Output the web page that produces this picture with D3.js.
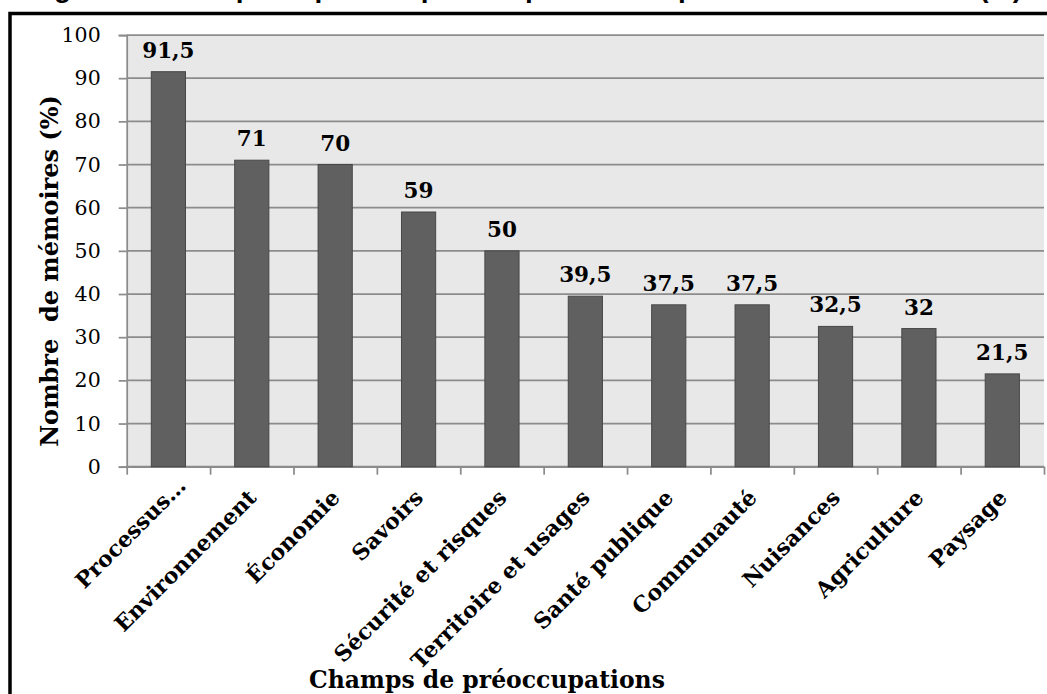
<!DOCTYPE html>
<html>
<head>
<meta charset="utf-8">
<script src="https://cdn.jsdelivr.net/npm/d3@7"></script>
<style>
  html, body { margin: 0; padding: 0; background: #ffffff; }
  svg { display: block; }
</style>
</head>
<body>
<script>
// Champs de préoccupations abordés par les mémoires (%)
const categories = [
  "Processus…", "Environnement", "Économie", "Savoirs", "Sécurité et risques",
  "Territoire et usages", "Santé publique", "Communauté", "Nuisances",
  "Agriculture", "Paysage"
];
const values = [91.5, 71, 70, 59, 50, 39.5, 37.5, 37.5, 32.5, 32, 21.5];
const yTicks = [0, 10, 20, 30, 40, 50, 60, 70, 80, 90, 100];
const yTitle = "Nombre  de mémoires (%)";
const xTitle = "Champs de préoccupations";
const figureTitle = "Figure 3 : Champs de préoccupations pris en compte dans les mémoires (%)";

const W = 1047, H = 694;
const plot = { left: 126.7, right: 1044, top: 35, bottom: 466.7 };
const serif = "'DejaVu Serif', serif";
const gridColor = "#8c8c8c";

const svg = d3.select("body").append("svg")
  .attr("width", W).attr("height", H);

// frame around the figure (runs past the right and bottom edges)
svg.append("rect")
  .attr("x", 10).attr("y", 13.5)
  .attr("width", 1200).attr("height", 900)
  .attr("fill", "#ffffff")
  .attr("stroke", "#000000").attr("stroke-width", 3.5);

// caption line above the frame, mostly above the top edge of the page
svg.append("text")
  .attr("x", 30).attr("y", -3)
  .attr("textLength", 992).attr("lengthAdjust", "spacing")
  .attr("font-family", "'Liberation Sans', Arial, sans-serif")
  .attr("font-weight", "bold").attr("font-size", 28)
  .attr("fill", "#000")
  .text(figureTitle);

const y = d3.scaleLinear().domain([0, 100]).range([plot.bottom, plot.top]);
const x = d3.scaleBand().domain(categories)
  .range([plot.left, plot.right])
  .paddingInner(0.59).paddingOuter(0.295);
const xEdge = d3.scaleLinear().domain([0, categories.length])
  .range([plot.left, plot.right]);

// plot background
svg.append("rect")
  .attr("x", plot.left).attr("y", plot.top)
  .attr("width", plot.right - plot.left).attr("height", plot.bottom - plot.top)
  .attr("fill", "#e8e8e8");

// horizontal gridlines
svg.append("g")
  .selectAll("line").data(yTicks).join("line")
  .attr("x1", plot.left).attr("x2", plot.right)
  .attr("y1", d => y(d)).attr("y2", d => y(d))
  .attr("stroke", gridColor).attr("stroke-width", 1.75);

// y axis
const yAxis = svg.append("g")
  .attr("transform", `translate(${plot.left},0)`)
  .call(d3.axisLeft(y).tickValues(yTicks).tickSize(8).tickPadding(18)
    .tickFormat(d => String(d)));
yAxis.select(".domain").attr("stroke", gridColor).attr("stroke-width", 1.75);
yAxis.selectAll(".tick line").attr("stroke", gridColor).attr("stroke-width", 1.75);
yAxis.selectAll(".tick text")
  .attr("font-family", serif).attr("font-size", 20.5).attr("fill", "#000");

// x axis (ticks on category boundaries)
const xAxis = svg.append("g")
  .attr("transform", `translate(0,${plot.bottom})`)
  .call(d3.axisBottom(xEdge).tickValues(d3.range(categories.length + 1))
    .tickSize(8).tickSizeOuter(0).tickFormat(""));
xAxis.select(".domain").attr("stroke", gridColor).attr("stroke-width", 1.75);
xAxis.selectAll(".tick line").attr("stroke", gridColor).attr("stroke-width", 1.75);

// bars
svg.append("g")
  .selectAll("rect").data(values).join("rect")
  .attr("x", (d, i) => x(categories[i]))
  .attr("width", x.bandwidth())
  .attr("y", d => y(d))
  .attr("height", d => y(0) - y(d))
  .attr("fill", "#606060")
  .attr("stroke", "#474747").attr("stroke-width", 1);

// value labels
svg.append("g")
  .selectAll("text").data(values).join("text")
  .attr("x", (d, i) => x(categories[i]) + x.bandwidth() / 2)
  .attr("y", d => y(d) - 14)
  .attr("text-anchor", "middle")
  .attr("font-family", serif).attr("font-weight", "bold").attr("font-size", 21.5)
  .attr("fill", "#000")
  .text(d => String(d).replace(".", ","));

// rotated category labels
svg.append("g")
  .selectAll("text").data(categories).join("text")
  .attr("transform", (d, i) => {
    const cx = x(d) + x.bandwidth() / 2 + 6;
    const shift = d.endsWith("…") ? 16 : 0;   // truncated label sits further along its line
    return `translate(${cx + shift * 0.8},${499 - shift * 0.75}) rotate(-45)`;
  })
  .attr("text-anchor", "end")
  .attr("font-family", serif).attr("font-weight", "bold").attr("font-size", 22)
  .attr("fill", "#000")
  .text(d => d);

// axis titles
svg.append("text")
  .attr("transform", "translate(58,271) rotate(-90)")
  .attr("text-anchor", "middle")
  .attr("font-family", serif).attr("font-weight", "bold").attr("font-size", 24)
  .attr("fill", "#000")
  .style("white-space", "pre")
  .attr("xml:space", "preserve")
  .text(yTitle);

svg.append("text")
  .attr("x", 487).attr("y", 688)
  .attr("text-anchor", "middle")
  .attr("font-family", serif).attr("font-weight", "bold").attr("font-size", 23.5)
  .attr("fill", "#000")
  .text(xTitle);
</script>
</body>
</html>
